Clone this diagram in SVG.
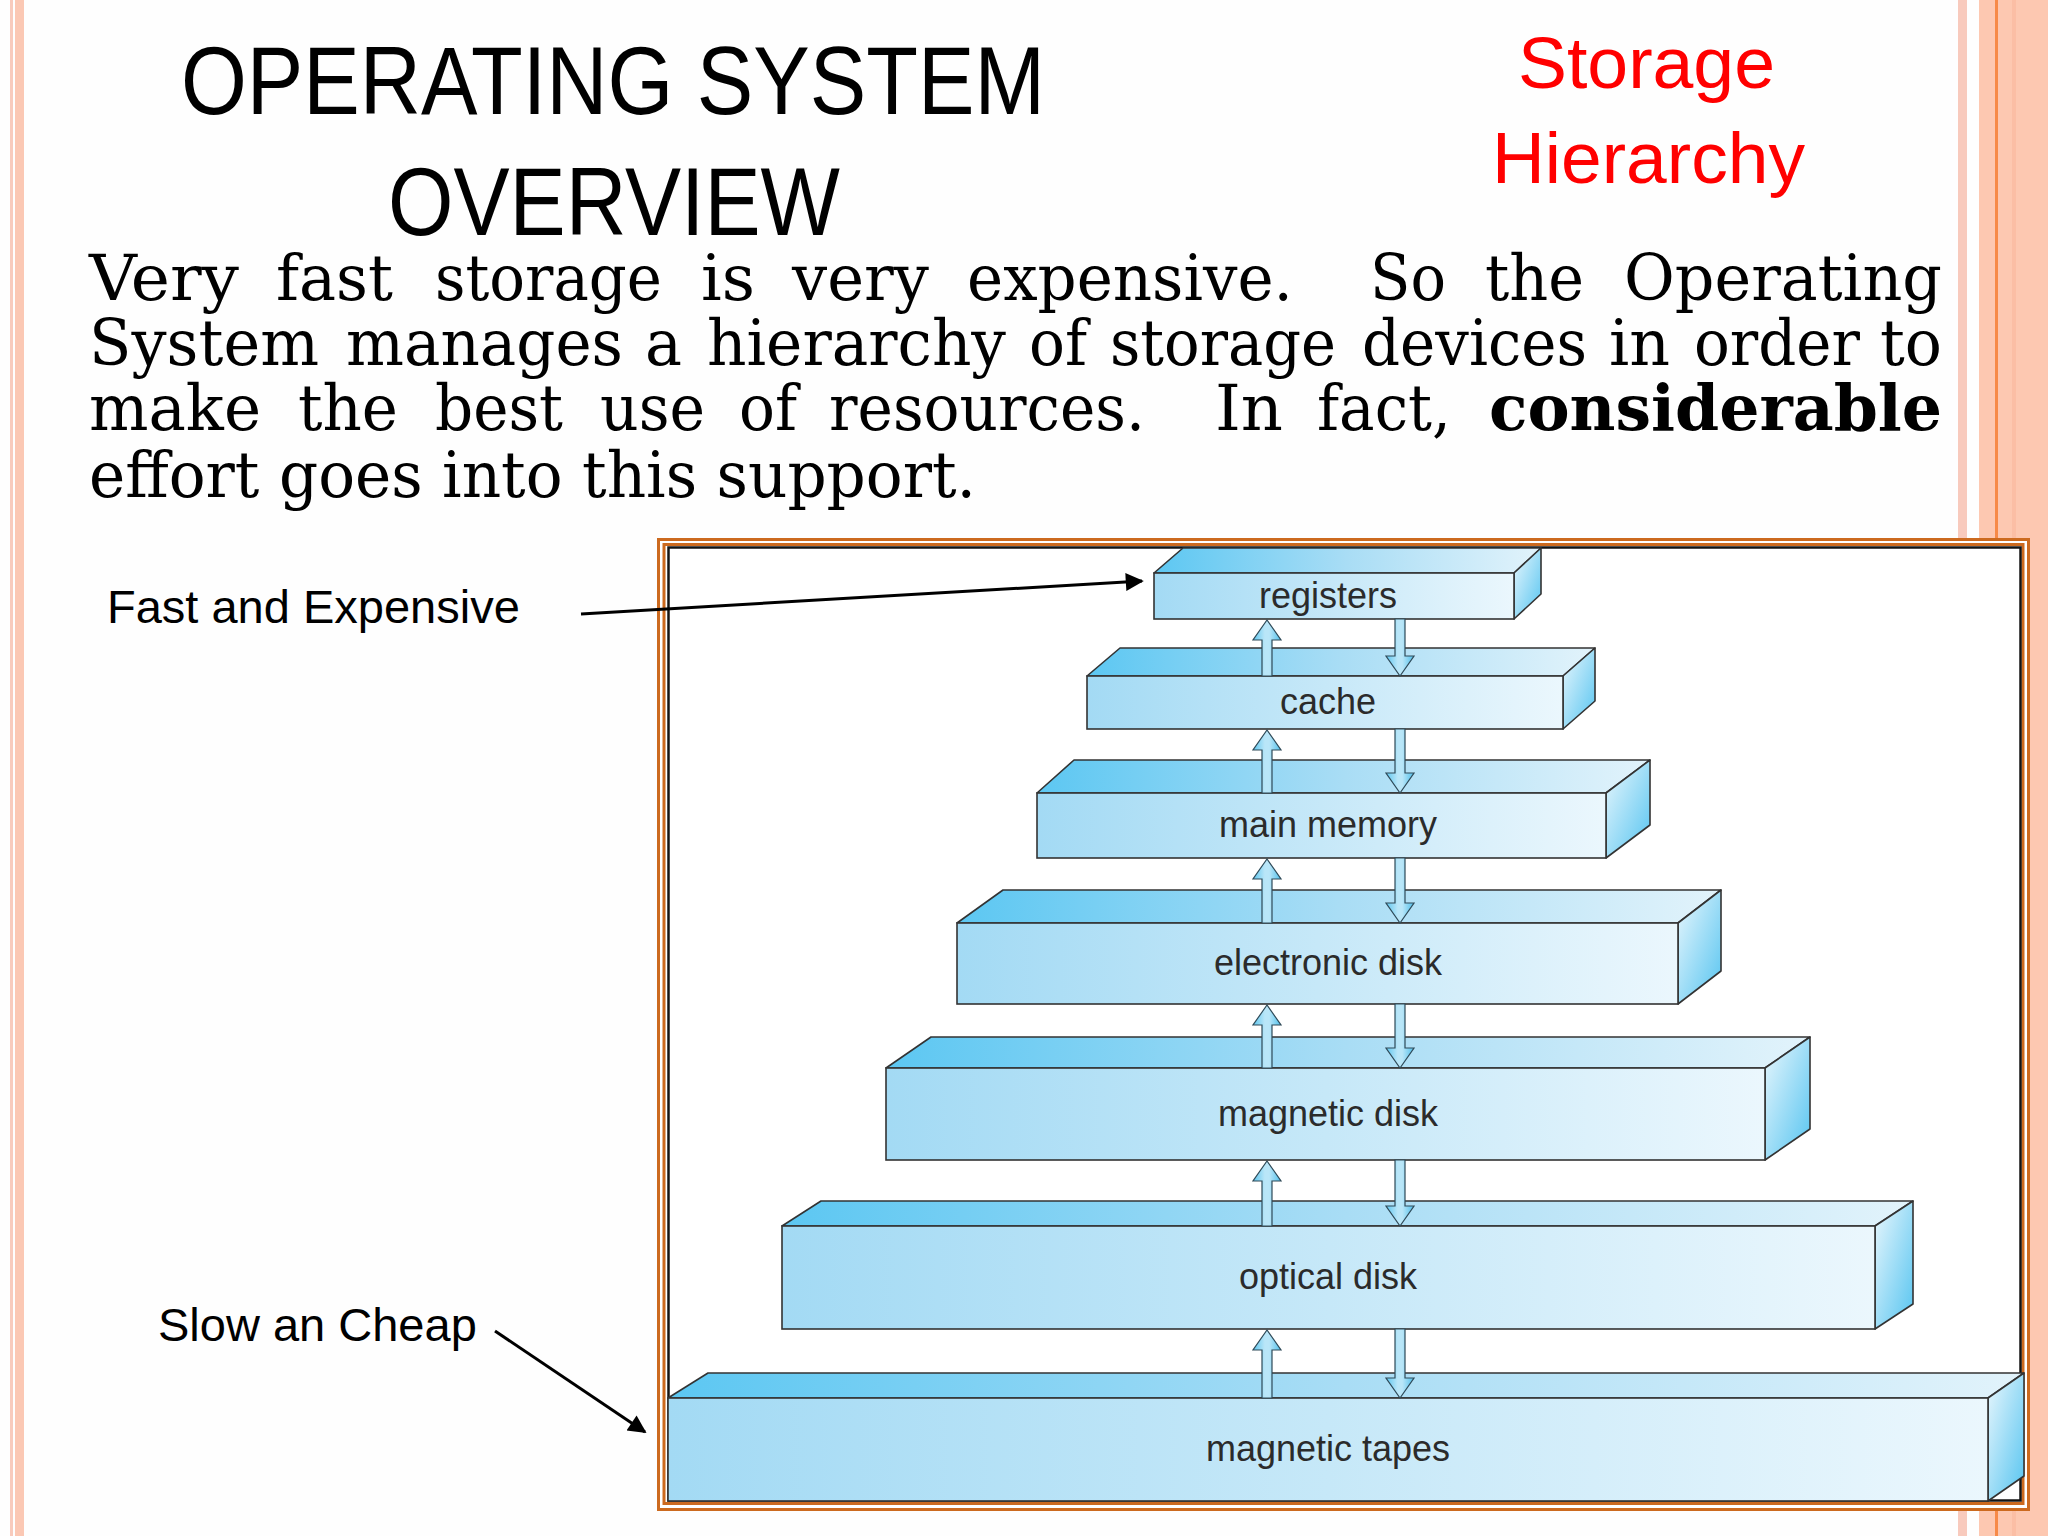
<svg xmlns="http://www.w3.org/2000/svg" width="2048" height="1536" viewBox="0 0 2048 1536">
<defs>
<linearGradient id="gFront" x1="0" y1="0" x2="1" y2="0">
<stop offset="0" stop-color="#a3daf4"/><stop offset="0.5" stop-color="#c6e8f8"/><stop offset="1" stop-color="#ebf7fd"/>
</linearGradient>
<linearGradient id="gTop" x1="0" y1="0" x2="1" y2="0">
<stop offset="0" stop-color="#5cc7f2"/><stop offset="0.5" stop-color="#a9ddf5"/><stop offset="1" stop-color="#e2f3fb"/>
</linearGradient>
<linearGradient id="gSide" x1="0" y1="0" x2="1" y2="1">
<stop offset="0" stop-color="#eaf7fd"/><stop offset="1" stop-color="#55c4f0"/>
</linearGradient>
<linearGradient id="gFlow" x1="0" y1="0" x2="1" y2="0">
<stop offset="0" stop-color="#5ec6ef"/><stop offset="0.42" stop-color="#b9e6f8"/><stop offset="0.58" stop-color="#b9e6f8"/><stop offset="1" stop-color="#4fbfeb"/>
</linearGradient>
<marker id="ah" viewBox="0 0 10 10" refX="9" refY="5" markerWidth="7" markerHeight="6" markerUnits="strokeWidth" orient="auto">
<path d="M0,0 L10,5 L0,10 z" fill="#000"/>
</marker>
<style>
.front{fill:url(#gFront);stroke:#333;stroke-width:1.6}
.top{fill:url(#gTop);stroke:#333;stroke-width:1.6;stroke-linejoin:round}
.side{fill:url(#gSide);stroke:#333;stroke-width:1.6;stroke-linejoin:round}
.lbl{font-family:"Liberation Sans",Arial,sans-serif;font-size:36px;fill:#2b2b2b;text-anchor:middle}
.flow{fill:url(#gFlow);stroke:#2f4a58;stroke-width:1.2;stroke-linejoin:miter}
.note{font-family:"Liberation Sans",Arial,sans-serif;font-size:47px;fill:#000}
.body{font-family:"DejaVu Serif","Liberation Serif",serif;font-size:64px;fill:#000}
.ptr{stroke:#000;stroke-width:3;fill:none;marker-end:url(#ah)}
</style>
</defs>
<rect x="0" y="0" width="2048" height="1536" fill="#fefefe"/>
<g id="slide-border">
<rect x="10" y="0" width="3" height="1536" fill="#f8cbbd"/>
<rect x="15" y="0" width="9" height="1536" fill="#fbc8b4"/>
<rect x="1958" y="0" width="9" height="1536" fill="#f8cabd"/>
<rect x="1979" y="0" width="69" height="1536" fill="#fdc8b1"/>
<rect x="2012" y="0" width="4" height="1536" fill="#fbbea5"/>
<rect x="1995" y="0" width="3" height="1536" fill="#f78a48"/>
</g>
<g id="title">
<text x="181" y="114" font-family="Liberation Sans,Arial,sans-serif" font-size="97" textLength="864" lengthAdjust="spacingAndGlyphs" fill="#000">OPERATING SYSTEM</text>
<text x="388" y="235" font-family="Liberation Sans,Arial,sans-serif" font-size="97" textLength="452" lengthAdjust="spacingAndGlyphs" fill="#000">OVERVIEW</text>
</g>
<g id="subtitle">
<text x="1518" y="88" font-family="Liberation Sans,Arial,sans-serif" font-size="72" textLength="257" lengthAdjust="spacingAndGlyphs" fill="#ff0000">Storage</text>
<text x="1492" y="183" font-family="Liberation Sans,Arial,sans-serif" font-size="72" textLength="313" lengthAdjust="spacingAndGlyphs" fill="#ff0000">Hierarchy</text>
</g>
<g id="body-text">
<text class="body" y="300"><tspan x="89" textLength="150" lengthAdjust="spacingAndGlyphs">Very</tspan><tspan x="276" textLength="117" lengthAdjust="spacingAndGlyphs">fast</tspan><tspan x="435" textLength="227" lengthAdjust="spacingAndGlyphs">storage</tspan><tspan x="701" textLength="54" lengthAdjust="spacingAndGlyphs">is</tspan><tspan x="792" textLength="137" lengthAdjust="spacingAndGlyphs">very</tspan><tspan x="967" textLength="326" lengthAdjust="spacingAndGlyphs">expensive.</tspan><tspan x="1370" textLength="76" lengthAdjust="spacingAndGlyphs">So</tspan><tspan x="1485" textLength="99" lengthAdjust="spacingAndGlyphs">the</tspan><tspan x="1624" textLength="318" lengthAdjust="spacingAndGlyphs">Operating</tspan></text>
<text class="body" y="365"><tspan x="89" textLength="230" lengthAdjust="spacingAndGlyphs">System</tspan><tspan x="346" textLength="277" lengthAdjust="spacingAndGlyphs">manages</tspan><tspan x="645" textLength="37" lengthAdjust="spacingAndGlyphs">a</tspan><tspan x="707" textLength="299" lengthAdjust="spacingAndGlyphs">hierarchy</tspan><tspan x="1029" textLength="58" lengthAdjust="spacingAndGlyphs">of</tspan><tspan x="1110" textLength="226" lengthAdjust="spacingAndGlyphs">storage</tspan><tspan x="1362" textLength="225" lengthAdjust="spacingAndGlyphs">devices</tspan><tspan x="1609" textLength="61" lengthAdjust="spacingAndGlyphs">in</tspan><tspan x="1694" textLength="166" lengthAdjust="spacingAndGlyphs">order</tspan><tspan x="1880" textLength="62" lengthAdjust="spacingAndGlyphs">to</tspan></text>
<text class="body" y="430"><tspan x="89" textLength="172" lengthAdjust="spacingAndGlyphs">make</tspan><tspan x="298" textLength="100" lengthAdjust="spacingAndGlyphs">the</tspan><tspan x="435" textLength="128" lengthAdjust="spacingAndGlyphs">best</tspan><tspan x="600" textLength="105" lengthAdjust="spacingAndGlyphs">use</tspan><tspan x="739" textLength="58" lengthAdjust="spacingAndGlyphs">of</tspan><tspan x="829" textLength="316" lengthAdjust="spacingAndGlyphs">resources.</tspan><tspan x="1215" textLength="68" lengthAdjust="spacingAndGlyphs">In</tspan><tspan x="1317" textLength="134" lengthAdjust="spacingAndGlyphs">fact,</tspan><tspan x="1489" textLength="453" lengthAdjust="spacingAndGlyphs" font-weight="bold">considerable</tspan></text>
<text class="body" x="89" y="497" textLength="887" lengthAdjust="spacingAndGlyphs">effort goes into this support.</text>
</g>
<g id="frame">
<rect x="658.5" y="539.5" width="1370" height="970" fill="#ffffff" stroke="#cc6a1f" stroke-width="3"/>
<rect x="664" y="544.5" width="1359" height="959" fill="none" stroke="#cc6a1f" stroke-width="3"/>
<rect x="668.5" y="547.5" width="1352" height="953" fill="#ffffff" stroke="#141414" stroke-width="2.5"/>
</g>
<g id="node-registers">
<polygon class="top" points="1154,573 1183,548 1541,548 1514,573"/>
<polygon class="side" points="1514,573 1541,548 1541,594 1514,619"/>
<rect class="front" x="1154" y="573" width="360" height="46"/>
<text class="lbl" x="1328" y="608">registers</text>
</g>
<g id="node-cache">
<polygon class="top" points="1087,676 1120,648 1595,648 1563,676"/>
<polygon class="side" points="1563,676 1595,648 1595,701 1563,729"/>
<rect class="front" x="1087" y="676" width="476" height="53"/>
<text class="lbl" x="1328" y="714">cache</text>
</g>
<g id="node-main-memory">
<polygon class="top" points="1037,793 1074,760 1650,760 1606,793"/>
<polygon class="side" points="1606,793 1650,760 1650,825 1606,858"/>
<rect class="front" x="1037" y="793" width="569" height="65"/>
<text class="lbl" x="1328" y="837">main memory</text>
</g>
<g id="node-electronic-disk">
<polygon class="top" points="957,923 1003,890 1721,890 1678,923"/>
<polygon class="side" points="1678,923 1721,890 1721,971 1678,1004"/>
<rect class="front" x="957" y="923" width="721" height="81"/>
<text class="lbl" x="1328" y="975">electronic disk</text>
</g>
<g id="node-magnetic-disk">
<polygon class="top" points="886,1068 931,1037 1810,1037 1765,1068"/>
<polygon class="side" points="1765,1068 1810,1037 1810,1129 1765,1160"/>
<rect class="front" x="886" y="1068" width="879" height="92"/>
<text class="lbl" x="1328" y="1126">magnetic disk</text>
</g>
<g id="node-optical-disk">
<polygon class="top" points="782,1226 821,1201 1913,1201 1875,1226"/>
<polygon class="side" points="1875,1226 1913,1201 1913,1304 1875,1329"/>
<rect class="front" x="782" y="1226" width="1093" height="103"/>
<text class="lbl" x="1328" y="1289">optical disk</text>
</g>
<g id="node-magnetic-tapes">
<polygon class="top" points="668,1398 708,1373 2024,1373 1988,1398"/>
<polygon class="side" points="1988,1398 2024,1373 2024,1476 1988,1501"/>
<rect class="front" x="668" y="1398" width="1320" height="103"/>
<text class="lbl" x="1328" y="1461">magnetic tapes</text>
</g>
<g id="labels">
<text class="note" x="107" y="623">Fast and Expensive</text>
<text class="note" x="158" y="1341">Slow an Cheap</text>
</g>
<g id="connectors">
<path class="flow" d="M1267,620 L1281,640 L1272,640 L1272,676 L1262,676 L1262,640 L1253,640 Z"/>
<path class="flow" d="M1395,619 L1405,619 L1405,656 L1414,656 L1400,676 L1386,656 L1395,656 Z"/>
<path class="flow" d="M1267,730 L1281,750 L1272,750 L1272,793 L1262,793 L1262,750 L1253,750 Z"/>
<path class="flow" d="M1395,729 L1405,729 L1405,773 L1414,773 L1400,793 L1386,773 L1395,773 Z"/>
<path class="flow" d="M1267,859 L1281,879 L1272,879 L1272,923 L1262,923 L1262,879 L1253,879 Z"/>
<path class="flow" d="M1395,858 L1405,858 L1405,903 L1414,903 L1400,923 L1386,903 L1395,903 Z"/>
<path class="flow" d="M1267,1005 L1281,1025 L1272,1025 L1272,1068 L1262,1068 L1262,1025 L1253,1025 Z"/>
<path class="flow" d="M1395,1004 L1405,1004 L1405,1048 L1414,1048 L1400,1068 L1386,1048 L1395,1048 Z"/>
<path class="flow" d="M1267,1161 L1281,1181 L1272,1181 L1272,1226 L1262,1226 L1262,1181 L1253,1181 Z"/>
<path class="flow" d="M1395,1160 L1405,1160 L1405,1206 L1414,1206 L1400,1226 L1386,1206 L1395,1206 Z"/>
<path class="flow" d="M1267,1330 L1281,1350 L1272,1350 L1272,1398 L1262,1398 L1262,1350 L1253,1350 Z"/>
<path class="flow" d="M1395,1329 L1405,1329 L1405,1378 L1414,1378 L1400,1398 L1386,1378 L1395,1378 Z"/>
<line class="ptr" x1="581" y1="614" x2="1142" y2="581"/>
<line class="ptr" x1="495" y1="1331" x2="645" y2="1432"/>
</g>
</svg>
